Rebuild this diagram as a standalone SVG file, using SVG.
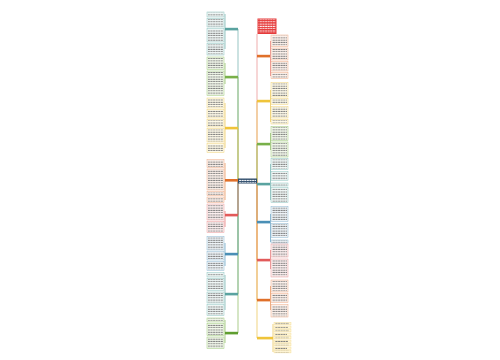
<svg xmlns="http://www.w3.org/2000/svg" width="500" height="360" viewBox="0 0 500 360">
<defs>
<pattern id="tx" patternUnits="userSpaceOnUse" width="2.6" height="2.3"><rect x="0" y="0.6" width="2.1" height="0.9" fill="#7a7a7a"/></pattern>
<pattern id="tw" patternUnits="userSpaceOnUse" width="2.6" height="2.3"><rect x="0" y="0.6" width="2.1" height="0.9" fill="#ffffff"/></pattern>
<style>
.l{stroke-width:0.5}
.t{fill:url(#tx)}
.w{fill:url(#tw)}
.c{fill:none;stroke-width:0.7}
.teal{fill:#f1f8f7;stroke:#8cc3bf}
.green{fill:#f3f9ec;stroke:#9cc87a}
.yel{fill:#fffbea;stroke:#efd27a}
.ora{fill:#fdf2ec;stroke:#eeaa86}
.red{fill:#fdf0f0;stroke:#ec9a9a}
.blue{fill:#eff5f9;stroke:#8db6cf}
</style>
</defs>
<rect width="500" height="360" fill="#ffffff"/>
<g id="connectors" class="c">
<path d="M238,181V29" stroke="#6aaeaa"/>
<path d="M238,181V77" stroke="#86b85a"/>
<path d="M238,181V128" stroke="#e9c24a"/>
<path d="M238,181V254" stroke="#5d9cc0"/>
<path d="M238,181V294" stroke="#6aaeaa"/>
<path d="M238,181V333" stroke="#86b85a"/>
<path d="M238,181V215" stroke="#e46a6a"/>
<path d="M257,181V34" stroke="#e88a8a"/>
<path d="M257,181V101" stroke="#e9c24a"/>
<path d="M257,181V144" stroke="#86b85a"/>
<path d="M257,181V222" stroke="#5d9cc0"/>
<path d="M257,181V260" stroke="#e46a6a"/>
<path d="M257,181V300" stroke="#e58a4a"/>
<path d="M257,181V338" stroke="#e9c24a"/>
<path d="M225,14V49" stroke="#6aaeaa"/>
<path d="M225,63V84" stroke="#86b85a"/>
<path d="M225,103V148" stroke="#e9c24a"/>
<path d="M225,163V200" stroke="#e58a4a"/>
<path d="M225,211V227" stroke="#e46a6a"/>
<path d="M225,243V266" stroke="#5d9cc0"/>
<path d="M225,275V310" stroke="#6aaeaa"/>
<path d="M225,320V343" stroke="#86b85a"/>
<path d="M270.5,41V76" stroke="#e46a6a"/>
<path d="M270.5,90V122" stroke="#e9c24a"/>
<path d="M270.5,133V150" stroke="#86b85a"/>
<path d="M270.5,164V200" stroke="#6aaeaa"/>
<path d="M270.5,214V242" stroke="#5d9cc0"/>
<path d="M270.5,250V269" stroke="#e46a6a"/>
<path d="M270.5,286V310" stroke="#e58a4a"/>
<path d="M273,324V352" stroke="#e9c24a"/>
</g>
<g id="center"><rect x="238" y="178.5" width="19" height="5" fill="#2e4c6b"/><rect x="239" y="179.2" width="17" height="3.8" class="w"/></g>
<g id="nodeL1"><rect x="225" y="27.8" width="13" height="2.6" fill="#5aa3a0"/></g>
<g id="nodeL2"><rect x="225" y="75.8" width="13" height="2.6" fill="#78b04a"/></g>
<g id="nodeL3"><rect x="225" y="126.8" width="13" height="2.6" fill="#efc43a"/></g>
<g id="nodeL4"><rect x="225" y="179" width="13" height="2.6" fill="#e0702a"/></g>
<g id="nodeL5"><rect x="225" y="213.8" width="13" height="2.6" fill="#e25a5a"/></g>
<g id="nodeL6"><rect x="225" y="252.8" width="13" height="2.6" fill="#4a8fb6"/></g>
<g id="nodeL7"><rect x="225" y="292.8" width="13" height="2.6" fill="#5aa3a0"/></g>
<g id="nodeL8"><rect x="225" y="331.8" width="13" height="2.6" fill="#5f9e30"/></g>
<g id="nodeR0"><rect x="257.5" y="18.5" width="19" height="15.5" fill="#e53b3b"/><rect x="258.5" y="19.5" width="17" height="13.5" class="w"/></g>
<g id="nodeR1"><rect x="257" y="54.8" width="13" height="2.6" fill="#e0702a"/></g>
<g id="nodeR2"><rect x="257" y="99.8" width="13" height="2.6" fill="#efc43a"/></g>
<g id="nodeR3"><rect x="257" y="142.8" width="13" height="2.6" fill="#78b04a"/></g>
<g id="nodeR4"><rect x="257" y="182.8" width="13" height="2.6" fill="#5aa3a0"/></g>
<g id="nodeR5"><rect x="257" y="220.8" width="13" height="2.6" fill="#4a8fb6"/></g>
<g id="nodeR6"><rect x="257" y="258.8" width="13" height="2.6" fill="#e25a5a"/></g>
<g id="nodeR7"><rect x="257" y="298.8" width="13" height="2.6" fill="#e0702a"/></g>
<g id="nodeR8"><rect x="257" y="336.8" width="16" height="2.6" fill="#efc43a"/></g>
<g id="leavesL" class="l">
<g class="teal"><rect x="207" y="12" width="17" height="5"/><rect x="207" y="18.5" width="17" height="8.5"/><rect x="207" y="28.5" width="17" height="13.5"/><rect x="207" y="43.5" width="17" height="11.5"/></g>
<g class="green"><rect x="207" y="57" width="17" height="12.5"/><rect x="207" y="71" width="17" height="24.5"/></g>
<g class="yel"><rect x="207" y="98" width="17" height="10"/><rect x="207" y="109.5" width="17" height="8.5"/><rect x="207" y="119.5" width="17" height="7.5"/><rect x="207" y="128.5" width="17" height="13.5"/><rect x="207" y="143.5" width="17" height="9"/></g>
<g class="ora"><rect x="207" y="159.5" width="17" height="8"/><rect x="207" y="169" width="17" height="21"/><rect x="207" y="191.5" width="17" height="4"/><rect x="207" y="197" width="17" height="5.5"/></g>
<g class="red"><rect x="207" y="204" width="17" height="16"/><rect x="207" y="221.5" width="17" height="11"/></g>
<g class="blue"><rect x="207" y="236.5" width="17" height="13.5"/><rect x="207" y="251.5" width="17" height="8.5"/><rect x="207" y="261.5" width="17" height="9"/></g>
<g class="teal"><rect x="207" y="272.5" width="17" height="4.5"/><rect x="207" y="278.5" width="17" height="12"/><rect x="207" y="292" width="17" height="11"/><rect x="207" y="304.5" width="17" height="11"/></g>
<g class="green"><rect x="207" y="318" width="17" height="4"/><rect x="207" y="323.5" width="17" height="12"/><rect x="207" y="337" width="17" height="11.5"/></g>
</g>
<g id="leavesR" class="l">
<g class="ora"><rect x="271" y="35" width="17" height="11.5"/><rect x="271" y="48" width="17" height="12"/><rect x="271" y="61.5" width="17" height="9.5"/><rect x="271" y="72.5" width="17" height="6"/></g>
<g class="yel"><rect x="271" y="82.5" width="17" height="14.5"/><rect x="271" y="98.5" width="17" height="6"/><rect x="271" y="106.5" width="17" height="11.5"/><rect x="271" y="119.5" width="17" height="4.5"/></g>
<g class="green"><rect x="271" y="126.5" width="17" height="14"/><rect x="271" y="142" width="17" height="15"/></g>
<g class="teal"><rect x="271" y="158.5" width="17" height="11"/><rect x="271" y="171.5" width="17" height="9"/><rect x="271" y="183" width="17" height="3"/><rect x="271" y="187.5" width="17" height="15"/></g>
<g class="blue"><rect x="271" y="206.5" width="17" height="15"/><rect x="271" y="223.5" width="17" height="14"/><rect x="271" y="240" width="17" height="3"/></g>
<g class="red"><rect x="271" y="244" width="17" height="13"/><rect x="271" y="259" width="17" height="18"/></g>
<g class="ora"><rect x="271" y="280" width="17" height="12"/><rect x="271" y="293.5" width="17" height="9"/><rect x="271" y="304.5" width="17" height="12.5"/></g>
</g>
<g id="leafText">
<rect x="208" y="12.8" width="15" height="3.5" class="t"/><rect x="208" y="19.3" width="15" height="7" class="t"/><rect x="208" y="29.3" width="15" height="12" class="t"/><rect x="208" y="44.3" width="15" height="10" class="t"/>
<rect x="208" y="57.8" width="15" height="11" class="t"/><rect x="208" y="71.8" width="15" height="23" class="t"/>
<rect x="208" y="98.8" width="15" height="8.5" class="t"/><rect x="208" y="110.3" width="15" height="7" class="t"/><rect x="208" y="120.3" width="15" height="6" class="t"/><rect x="208" y="129.3" width="15" height="12" class="t"/><rect x="208" y="144.3" width="15" height="7.5" class="t"/>
<rect x="208" y="160.3" width="15" height="6.5" class="t"/><rect x="208" y="169.8" width="15" height="19.5" class="t"/><rect x="208" y="192.2" width="15" height="2.6" class="t"/><rect x="208" y="197.8" width="15" height="4" class="t"/>
<rect x="208" y="204.8" width="15" height="14.5" class="t"/><rect x="208" y="222.3" width="15" height="9.5" class="t"/>
<rect x="208" y="237.3" width="15" height="12" class="t"/><rect x="208" y="252.3" width="15" height="7" class="t"/><rect x="208" y="262.3" width="15" height="7.5" class="t"/>
<rect x="208" y="273.2" width="15" height="3" class="t"/><rect x="208" y="279.3" width="15" height="10.5" class="t"/><rect x="208" y="292.8" width="15" height="9.5" class="t"/><rect x="208" y="305.3" width="15" height="9.5" class="t"/>
<rect x="208" y="318.7" width="15" height="2.6" class="t"/><rect x="208" y="324.3" width="15" height="10.5" class="t"/><rect x="208" y="337.8" width="15" height="10" class="t"/>
<rect x="272" y="35.8" width="15" height="10" class="t"/><rect x="272" y="48.8" width="15" height="10.5" class="t"/><rect x="272" y="62.3" width="15" height="8" class="t"/><rect x="272" y="73.3" width="15" height="4.5" class="t"/>
<rect x="272" y="83.3" width="15" height="13" class="t"/><rect x="272" y="99.3" width="15" height="4.5" class="t"/><rect x="272" y="107.3" width="15" height="10" class="t"/><rect x="272" y="120.3" width="15" height="3" class="t"/>
<rect x="272" y="127.3" width="15" height="12.5" class="t"/><rect x="272" y="142.8" width="15" height="13.5" class="t"/>
<rect x="272" y="159.3" width="15" height="9.5" class="t"/><rect x="272" y="172.3" width="15" height="7.5" class="t"/><rect x="272" y="183.6" width="15" height="2" class="t"/><rect x="272" y="188.3" width="15" height="13.5" class="t"/>
<rect x="272" y="207.3" width="15" height="13.5" class="t"/><rect x="272" y="224.3" width="15" height="12.5" class="t"/><rect x="272" y="240.6" width="15" height="2" class="t"/>
<rect x="272" y="244.8" width="15" height="11.5" class="t"/><rect x="272" y="259.8" width="15" height="16.5" class="t"/>
<rect x="272" y="280.8" width="15" height="10.5" class="t"/><rect x="272" y="294.3" width="15" height="7.5" class="t"/><rect x="272" y="305.3" width="15" height="11" class="t"/>
</g>
<g id="leavesR8">
<g fill="#fff6d6" stroke="#f2d98a" stroke-width="0.4">
<rect x="274" y="322.5" width="17" height="2.4"/><rect x="274" y="326" width="17" height="2.4"/><rect x="274" y="329.5" width="17" height="2.4"/><rect x="274" y="333" width="17" height="2.4"/><rect x="274" y="336.5" width="17" height="2.4"/><rect x="274" y="340" width="17" height="2.4"/><rect x="274" y="343.5" width="17" height="2.4"/><rect x="274" y="347" width="17" height="2.4"/><rect x="274" y="350.5" width="17" height="2.4"/>
</g>
<g fill="url(#tx)">
<rect x="275" y="322.8" width="14" height="1.8"/><rect x="275" y="326.3" width="13" height="1.8"/><rect x="275" y="329.8" width="14" height="1.8"/><rect x="275" y="333.3" width="12" height="1.8"/><rect x="275" y="336.8" width="14" height="1.8"/><rect x="275" y="340.3" width="13" height="1.8"/><rect x="275" y="343.8" width="14" height="1.8"/><rect x="275" y="347.3" width="12" height="1.8"/><rect x="275" y="350.8" width="14" height="1.8"/>
</g>
</g>
</svg>
